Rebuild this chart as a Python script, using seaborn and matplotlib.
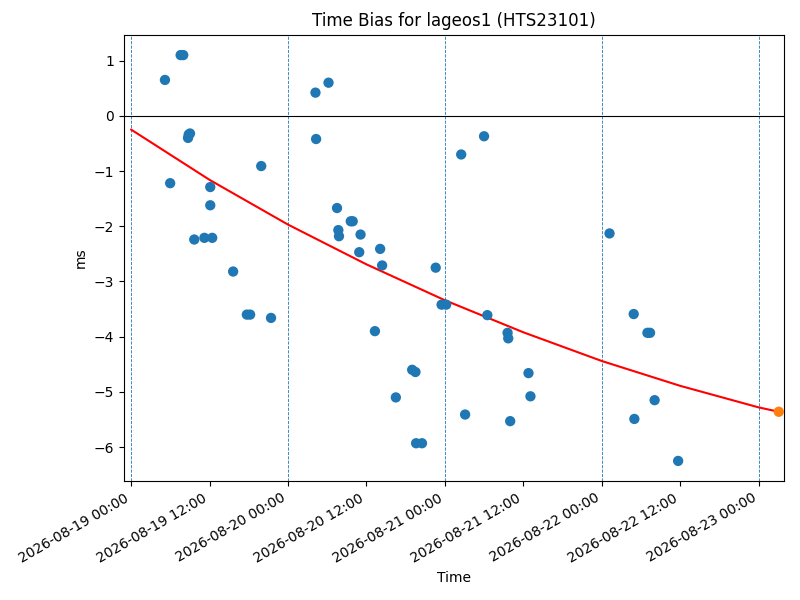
import pandas as pd
import seaborn as sns
import matplotlib
matplotlib.use("Agg")
import matplotlib.pyplot as plt
import matplotlib.dates as mdates

# measured time bias per pass
obs_times = [
    "2026-08-19 05:10", "2026-08-19 05:58", "2026-08-19 07:34", "2026-08-19 07:58",
    "2026-08-19 08:42", "2026-08-19 08:48", "2026-08-19 09:00", "2026-08-19 09:39",
    "2026-08-19 11:12", "2026-08-19 12:24", "2026-08-19 12:06", "2026-08-19 12:06",
    "2026-08-19 15:36", "2026-08-19 17:42", "2026-08-19 18:12", "2026-08-19 19:54",
    "2026-08-19 21:24",
    "2026-08-20 04:12", "2026-08-20 04:18", "2026-08-20 06:12", "2026-08-20 07:30",
    "2026-08-20 07:42", "2026-08-20 07:48", "2026-08-20 09:36", "2026-08-20 09:54",
    "2026-08-20 10:54", "2026-08-20 11:06", "2026-08-20 13:18", "2026-08-20 14:06",
    "2026-08-20 14:24", "2026-08-20 16:30", "2026-08-20 19:00", "2026-08-20 19:30",
    "2026-08-20 19:36", "2026-08-20 20:30", "2026-08-20 22:36", "2026-08-20 23:30",
    "2026-08-21 00:12", "2026-08-21 02:30", "2026-08-21 03:06", "2026-08-21 06:00",
    "2026-08-21 06:30", "2026-08-21 09:36", "2026-08-21 09:42", "2026-08-21 10:00",
    "2026-08-21 12:48", "2026-08-21 13:06",
    "2026-08-22 01:12", "2026-08-22 04:54", "2026-08-22 05:00", "2026-08-22 07:00",
    "2026-08-22 07:24", "2026-08-22 08:06", "2026-08-22 11:42",
]
obs_bias = [
    0.65, -1.22, 1.10, 1.10,
    -0.40, -0.34, -0.32, -2.24,
    -2.21, -2.21, -1.29, -1.62,
    -2.82, -3.60, -3.60, -0.91,
    -3.66,
    0.42, -0.42, 0.60, -1.67,
    -2.07, -2.18, -1.91, -1.91,
    -2.47, -2.15, -3.90, -2.41,
    -2.71, -5.10, -4.60, -4.64,
    -5.93, -5.93, -2.75, -3.42,
    -3.42, -0.70, -5.41, -0.37,
    -3.61, -3.93, -4.03, -5.53,
    -4.66, -5.08,
    -2.13, -3.59, -5.49, -3.93,
    -3.93, -5.15, -6.25,
]

# fitted trend
fit_times = [
    "2026-08-19 00:00", "2026-08-19 12:00", "2026-08-20 00:00", "2026-08-20 12:00",
    "2026-08-21 00:00", "2026-08-21 12:00", "2026-08-22 00:00", "2026-08-22 12:00",
    "2026-08-23 00:00", "2026-08-23 03:06",
]
fit_bias = [-0.25, -1.16, -1.97, -2.69, -3.34, -3.92, -4.44, -4.89, -5.28, -5.36]

pred_time = ["2026-08-23 03:06"]
pred_bias = [-5.36]

day_lines = ["2026-08-19", "2026-08-20", "2026-08-21", "2026-08-22", "2026-08-23"]

obs = pd.DataFrame({"Time": pd.to_datetime(obs_times), "bias": obs_bias})
fit = pd.DataFrame({"Time": pd.to_datetime(fit_times), "bias": fit_bias})
pred = pd.DataFrame({"Time": pd.to_datetime(pred_time), "bias": pred_bias})

fig, ax = plt.subplots(figsize=(8, 6), dpi=100)

for d in day_lines:
    ax.axvline(pd.Timestamp(d), color="C0", linestyle="--", linewidth=0.6)
ax.axhline(0, color="black", linewidth=0.8)

sns.scatterplot(data=obs, x="Time", y="bias", ax=ax, color="C0", s=55,
                edgecolor="none", zorder=3)
sns.lineplot(data=fit, x="Time", y="bias", ax=ax, color="red", linewidth=1.5,
             zorder=2)
sns.scatterplot(data=pred, x="Time", y="bias", ax=ax, color="C1", s=55,
                edgecolor="none", zorder=4)

ax.set_xlim(pd.Timestamp("2026-08-18 22:54"), pd.Timestamp("2026-08-23 03:54"))
ax.xaxis.set_major_locator(mdates.HourLocator(byhour=[0, 12]))
ax.xaxis.set_major_formatter(mdates.DateFormatter("%Y-%m-%d %H:%M"))
plt.setp(ax.get_xticklabels(), rotation=30, ha="right")

ax.set_title("Time Bias for lageos1 (HTS23101)")
ax.set_xlabel("Time")
ax.set_ylabel("ms")

plt.subplots_adjust(left=0.155, right=0.98, top=0.942, bottom=0.198)
plt.savefig("out.png")
